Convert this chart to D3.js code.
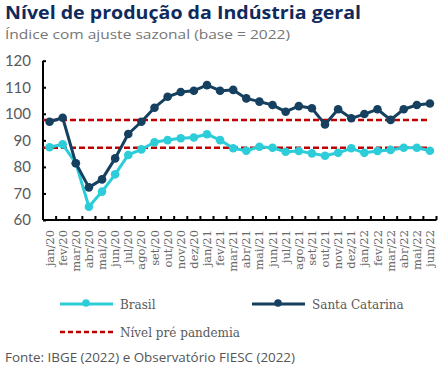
<!DOCTYPE html>
<html><head><meta charset="utf-8">
<script src="https://cdn.jsdelivr.net/npm/d3@7"></script>
<style>body{margin:0;background:#fff}svg{display:block}</style>
</head><body>
<script>
const categories = ["jan/20","fev/20","mar/20","abr/20","mai/20","jun/20","jul/20","ago/20","set/20","out/20","nov/20","dez/20",
"jan/21","fev/21","mar/21","abr/21","mai/21","jun/21","jul/21","ago/21","set/21","out/21","nov/21","dez/21",
"jan/22","fev/22","mar/22","abr/22","mai/22","jun/22"];
const brasil = [87.4,88.5,81.4,65.0,70.7,77.2,84.5,86.6,89.3,90.1,90.8,91.1,
92.3,90.1,87.0,86.1,87.6,87.2,85.7,86.0,85.1,84.2,85.3,87.0,
85.3,86.0,86.4,87.2,87.2,86.1];
const santaCatarina = [97.0,98.5,81.4,72.3,75.3,83.2,92.4,97.0,102.3,106.4,108.2,108.7,
110.8,108.7,109.0,105.8,104.6,103.3,100.8,102.9,102.1,96.0,101.7,98.3,
99.9,101.7,97.7,101.7,103.3,103.9];
const preBrasil = 87.2, preSC = 97.7;
const yTicks = [60,70,80,90,100,110,120];

const W=443,H=369;
const svg=d3.select("body").append("svg").attr("width",W).attr("height",H);
const x=d3.scaleBand().domain(categories).range([43,436.5]);
const y=d3.scaleLinear().domain([60,120]).range([220,60.7]);
const cx=d=>x(d)+x.bandwidth()/2;

svg.append("text").attr("x",5).attr("y",19).text("Nível de produção da Indústria geral")
 .attr("font-family","Open Sans").attr("font-weight",700).attr("font-size",17.5).attr("fill","#0f2a5c")
 .attr("textLength",356).attr("lengthAdjust","spacingAndGlyphs");
svg.append("text").attr("x",5).attr("y",38.5).text("Índice com ajuste sazonal (base = 2022)")
 .attr("font-family","Open Sans").attr("font-size",13.5).attr("fill","#767676")
 .attr("textLength",285).attr("lengthAdjust","spacingAndGlyphs");

// y axis
const ya=svg.append("g").attr("transform","translate(43,0)")
 .call(d3.axisLeft(y).tickValues(yTicks).tickSize(-4).tickPadding(12).tickFormat(d3.format("d")));
ya.select(".domain").attr("stroke","#000").attr("stroke-width",2).attr("d","M0,220V60.7");
ya.selectAll(".tick line").attr("stroke","#000").attr("stroke-width",2).attr("x1",0).attr("x2",3);
ya.selectAll(".tick text").attr("font-family","Lato").attr("font-size",15).attr("fill","#595959").attr("x",-12);

// x axis
const xa=svg.append("g").attr("transform","translate(0,220)")
 .call(d3.axisBottom(x).tickSize(0).tickPadding(0));
xa.select(".domain").attr("stroke","#000").attr("stroke-width",2).attr("d","M43,0H436.5");
xa.selectAll(".tick line").remove();
const bounds=d3.range(categories.length+1).map(i=>43+i*x.step());
xa.selectAll("line.bt").data(bounds).enter().append("line").attr("class","bt")
 .attr("x1",d=>d).attr("x2",d=>d).attr("y1",0).attr("y2",-4).attr("stroke","#000").attr("stroke-width",2);
xa.selectAll(".tick text").attr("font-family","DejaVu Serif").attr("font-size",11.5).attr("fill","#666")
 .attr("text-anchor","end").attr("dy","0.35em").attr("transform","translate(0,10) rotate(-90)").attr("x",0).attr("y",0);

// pre-pandemic lines
[preSC,preBrasil].forEach(v=>{
 svg.append("line").attr("x1",43).attr("x2",cx(categories[categories.length-1]))
  .attr("y1",y(v)).attr("y2",y(v)).attr("stroke","#c00000").attr("stroke-width",2.5).attr("stroke-dasharray","6,3");
});

function series(vals,color){
 const line=d3.line().x((d,i)=>cx(categories[i])).y(d=>y(d));
 svg.append("path").datum(vals).attr("d",line).attr("fill","none").attr("stroke",color).attr("stroke-width",3).attr("stroke-linejoin","round");
 svg.append("g").selectAll("circle").data(vals).enter().append("circle")
  .attr("cx",(d,i)=>cx(categories[i])).attr("cy",d=>y(d)).attr("r",4.3).attr("fill",color);
}
series(brasil,"#2ccdd8");
series(santaCatarina,"#16405f");

// legend
const lg=svg.append("g").attr("font-family","DejaVu Serif").attr("font-size",12).attr("fill","#595959");
function legLine(x0,yy,color,dash,label){
 lg.append("line").attr("x1",x0).attr("x2",x0+53).attr("y1",yy).attr("y2",yy).attr("stroke",color)
  .attr("stroke-width",dash?2.5:3).attr("stroke-dasharray",dash?"5,3":null);
 if(!dash) lg.append("circle").attr("cx",x0+26).attr("cy",yy-1).attr("r",3.8).attr("fill",color);
 lg.append("text").attr("x",x0+60).attr("y",yy+5).text(label);
}
legLine(60,304,"#2ccdd8",false,"Brasil");
legLine(252,304,"#16405f",false,"Santa Catarina");
legLine(60,332,"#c00000",true,"Nível pré pandemia");

svg.append("text").attr("x",5).attr("y",362).text("Fonte: IBGE (2022) e Observatório FIESC (2022)")
 .attr("font-family","Open Sans").attr("font-size",12.5).attr("fill","#555")
 .attr("textLength",290).attr("lengthAdjust","spacingAndGlyphs");
</script>
</body></html>
